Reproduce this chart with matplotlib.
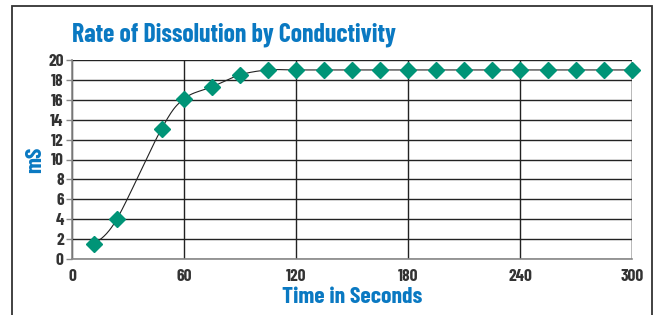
import numpy as np
import matplotlib
matplotlib.use("Agg")
import matplotlib.pyplot as plt
from matplotlib.patches import Rectangle

time_s = [12, 24, 48, 60, 75, 90, 105, 120, 135, 150, 165, 180, 195, 210, 225, 240, 255, 270, 285, 300]
conductivity_ms = [1.5, 4.0, 13.1, 16.1, 17.3, 18.5, 19.0, 19.0, 19.0, 19.0, 19.0, 19.0, 19.0, 19.0, 19.0, 19.0, 19.0, 19.0, 19.0, 19.0]
x_ticks = [0, 60, 120, 180, 240, 300]
y_ticks = list(range(0, 21, 2))
title = "Rate of Dissolution by Conductivity"
x_label = "Time in Seconds"
y_label = "mS"

FONT = ["Barlow Condensed", "DejaVu Sans"]
BLUE = "#0a79c2"
GREEN = "#009477"


def smooth(xs, ys, n=30):
    xs = np.asarray(xs, float)
    ys = np.asarray(ys, float)
    px = np.concatenate([[xs[0]], xs, [xs[-1]]])
    py = np.concatenate([[ys[0]], ys, [ys[-1]]])
    outx, outy = [], []
    t = np.linspace(0, 1, n)
    for i in range(1, len(px) - 2):
        p0x, p1x, p2x, p3x = px[i - 1], px[i], px[i + 1], px[i + 2]
        p0y, p1y, p2y, p3y = py[i - 1], py[i], py[i + 1], py[i + 2]
        c1x = p1x + (p2x - p0x) / 6
        c1y = p1y + (p2y - p0y) / 6
        c2x = p2x - (p3x - p1x) / 6
        c2y = p2y - (p3y - p1y) / 6
        bx = (1 - t) ** 3 * p1x + 3 * (1 - t) ** 2 * t * c1x + 3 * (1 - t) * t ** 2 * c2x + t ** 3 * p2x
        by = (1 - t) ** 3 * p1y + 3 * (1 - t) ** 2 * t * c1y + 3 * (1 - t) * t ** 2 * c2y + t ** 3 * p2y
        outx.extend(bx)
        outy.extend(by)
    return np.array(outx), np.array(outy)


fig = plt.figure(figsize=(6.55, 3.15), dpi=100)
W, H = 655, 315
ax = fig.add_axes([72 / W, 1 - 259 / H, (632 - 72) / W, (259 - 60) / H])

# outer frame
fig.patches.append(Rectangle((12 / W, -0.05), (652 - 12) / W, (1 - 6 / H) + 0.05,
                             transform=fig.transFigure, fill=False,
                             edgecolor="#333333", linewidth=1.3))

sx, sy = smooth(time_s, conductivity_ms)
ax.plot(sx, sy, color="#222222", linewidth=0.8, zorder=3)
ax.plot(time_s, conductivity_ms, linestyle="none", marker="D", markersize=8.5,
        color=GREEN, markeredgecolor=GREEN, zorder=4, clip_on=False)

ax.set_xlim(0, 300)
ax.set_ylim(0, 20)
ax.set_xticks(x_ticks)
ax.set_yticks(y_ticks)
ax.grid(True, color="#222222", linewidth=1.0)
ax.set_axisbelow(True)
for s in ["top", "right"]:
    ax.spines[s].set_visible(False)
for s in ["left", "bottom"]:
    ax.spines[s].set_color("#888888")
    ax.spines[s].set_linewidth(1.2)
ax.axvline(300, color="#555555", linewidth=1.0)

ax.tick_params(axis="y", length=4, width=1, color="#888888", pad=2)
ax.tick_params(axis="x", length=0, pad=7)
for lab in ax.get_xticklabels() + ax.get_yticklabels():
    lab.set_fontfamily(FONT)
    lab.set_fontweight("bold")
    lab.set_fontsize(12.5)
    lab.set_color("#333333")

fig.text(72 / W, 1 - 35 / H, title, fontsize=18.5, fontweight="bold", color=BLUE,
         family=FONT, ha="left", va="center")
fig.text(352 / W, 1 - 297 / H, x_label, fontsize=17, fontweight="bold", color=BLUE,
         family=FONT, ha="center", va="center")
fig.text(35 / W, 1 - 160 / H, y_label, fontsize=17, fontweight="bold", color=BLUE,
         family=FONT, ha="center", va="center", rotation=90)

fig.savefig("out.png", dpi=100)
